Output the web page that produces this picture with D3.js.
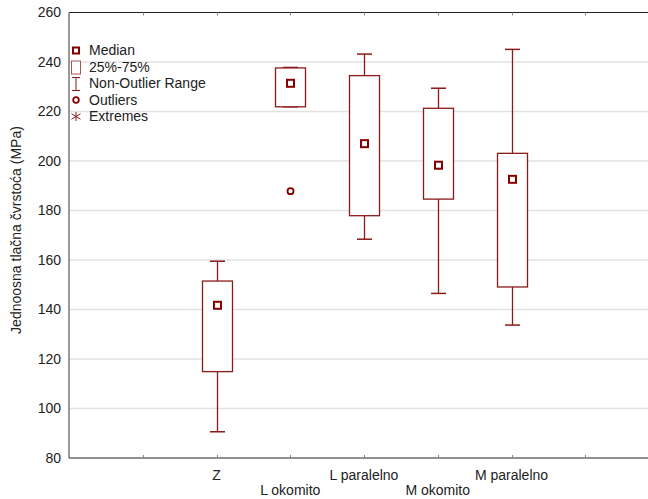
<!DOCTYPE html>
<html><head><meta charset="utf-8">
<script src="https://cdn.jsdelivr.net/npm/d3@7"></script>
<style>body{margin:0;background:#fff}svg{display:block}text{font-family:"Liberation Sans",Arial,sans-serif;}</style>
</head><body>
<svg id="c" width="648" height="499"></svg>
<script>
const categories = ["Z","L okomito","L paralelno","M okomito","M paralelno"];
const whiskerMin = [90.6, 221.9, 168.4, 146.5, 133.7];
const q1 = [114.9, 221.9, 177.9, 184.6, 149.1];
const medians = [141.7, 231.4, 207.0, 198.3, 192.6];
const q3 = [151.5, 237.6, 234.5, 221.3, 203.1];
const whiskerMax = [159.5, 237.8, 243.2, 229.4, 245.1];
const outliers = [[], [187.8], [], [], []];
const yTicks = [80,100,120,140,160,180,200,220,240,260];
const legendItems = ["Median","25%-75%","Non-Outlier Range","Outliers","Extremes"];
const yTitle = "Jednoosna tlačna čvrstoća (MPa)";

const svg = d3.select("#c");
const red = "#8b1a1a", dark = "#870000";
const fs = "14px";
const x = d3.scaleLinear().domain([0,8]).range([69,659]);
const y = d3.scaleLinear().domain([80,260]).range([458,12.5]);
const L = 69, R = 659, T = 12.5, B = 458;

// grid
svg.append("g").selectAll("line").data(yTicks.slice(1,-1)).join("line")
  .attr("x1",L).attr("x2",R).attr("y1",d=>y(d)).attr("y2",d=>y(d))
  .attr("stroke","#e2e2e2").attr("stroke-width",1.5);

// axes frame
svg.append("line").attr("x1",L).attr("x2",R).attr("y1",T).attr("y2",T).attr("stroke","#222").attr("stroke-width",1.2);
svg.append("line").attr("x1",L).attr("x2",R).attr("y1",B).attr("y2",B).attr("stroke","#222").attr("stroke-width",1.2);
svg.append("line").attr("x1",L).attr("x2",L).attr("y1",T).attr("y2",B).attr("stroke","#555").attr("stroke-width",1.2);

// x ticks (inward, top and bottom)
const xt = d3.range(1,8);
svg.append("g").selectAll("line").data(xt).join("line")
  .attr("x1",d=>Math.round(x(d))+0.5).attr("x2",d=>Math.round(x(d))+0.5).attr("y1",B).attr("y2",B-3)
  .attr("stroke","#888");
svg.append("g").selectAll("line").data(xt).join("line")
  .attr("x1",d=>Math.round(x(d))+0.5).attr("x2",d=>Math.round(x(d))+0.5).attr("y1",T).attr("y2",T+3)
  .attr("stroke","#888");

// y labels
svg.append("g").selectAll("text").data(yTicks).join("text")
  .attr("x",61).attr("y",d=>y(d)).attr("dy","0.35em").attr("text-anchor","end")
  .attr("font-size",fs).attr("fill","#222").text(d=>d);

svg.append("text").attr("transform","translate(21,230) rotate(-90)")
  .attr("text-anchor","middle").attr("font-size",fs).attr("fill","#222").text(yTitle);

// x labels staggered
svg.append("g").selectAll("text").data(categories).join("text")
  .attr("x",(d,i)=>x(i+2)).attr("y",(d,i)=> i%2===0 ? 480 : 495)
  .attr("text-anchor","middle").attr("font-size",fs).attr("fill","#222").text(d=>d);

// boxes
const bw = 30, cw = 15;
const g = svg.append("g");
categories.forEach((c,i)=>{
  const cx = Math.round(x(i+2))+0.5;
  g.append("line").attr("x1",cx).attr("x2",cx).attr("y1",y(whiskerMax[i])).attr("y2",y(q3[i])).attr("stroke",red).attr("stroke-width",1.3);
  g.append("line").attr("x1",cx).attr("x2",cx).attr("y1",y(q1[i])).attr("y2",y(whiskerMin[i])).attr("stroke",red).attr("stroke-width",1.3);
  g.append("line").attr("x1",cx-cw/2).attr("x2",cx+cw/2).attr("y1",y(whiskerMax[i])).attr("y2",y(whiskerMax[i])).attr("stroke",red).attr("stroke-width",1.5);
  g.append("line").attr("x1",cx-cw/2).attr("x2",cx+cw/2).attr("y1",y(whiskerMin[i])).attr("y2",y(whiskerMin[i])).attr("stroke",red).attr("stroke-width",1.5);
  g.append("rect").attr("x",cx-bw/2).attr("y",y(q3[i])).attr("width",bw).attr("height",y(q1[i])-y(q3[i]))
    .attr("fill","#fff").attr("stroke",red).attr("stroke-width",1.3);
  g.append("rect").attr("x",cx-3.5).attr("y",y(medians[i])-3.5).attr("width",7).attr("height",7)
    .attr("fill","#fff").attr("stroke",dark).attr("stroke-width",2);
  outliers[i].forEach(v=>{
    g.append("circle").attr("cx",cx).attr("cy",y(v)).attr("r",3).attr("fill","#fff").attr("stroke",dark).attr("stroke-width",1.8);
  });
});

// legend
const lg = svg.append("g");
legendItems.forEach((t,i)=>{
  const ly = 50.5 + i*16.5;
  lg.append("text").attr("x",89).attr("y",ly).attr("dy","0.35em").attr("font-size",fs).attr("fill","#222").text(t);
  const sx = 76;
  if(i===0){
    lg.append("rect").attr("x",sx-3).attr("y",ly-3).attr("width",6).attr("height",6).attr("fill","#fff").attr("stroke",dark).attr("stroke-width",2);
  } else if(i===1){
    lg.append("rect").attr("x",sx-4.5).attr("y",ly-6).attr("width",9).attr("height",13).attr("fill","#fff").attr("stroke","#a55").attr("stroke-width",1);
  } else if(i===2){
    lg.append("line").attr("x1",sx).attr("x2",sx).attr("y1",ly-6).attr("y2",ly+7).attr("stroke",red);
    lg.append("line").attr("x1",sx-4).attr("x2",sx+4).attr("y1",ly-6).attr("y2",ly-6).attr("stroke",red);
    lg.append("line").attr("x1",sx-4).attr("x2",sx+4).attr("y1",ly+7).attr("y2",ly+7).attr("stroke",red);
  } else if(i===3){
    lg.append("circle").attr("cx",sx).attr("cy",ly).attr("r",2.8).attr("fill","#fff").attr("stroke",dark).attr("stroke-width",1.8);
  } else {
    const s = 4.5;
    lg.append("line").attr("x1",sx).attr("x2",sx).attr("y1",ly-s).attr("y2",ly+s).attr("stroke",red);
    lg.append("line").attr("x1",sx-s).attr("x2",sx+s).attr("y1",ly-s*0.6).attr("y2",ly+s*0.6).attr("stroke",red);
    lg.append("line").attr("x1",sx-s).attr("x2",sx+s).attr("y1",ly+s*0.6).attr("y2",ly-s*0.6).attr("stroke",red);
  }
});
</script>
</body></html>
